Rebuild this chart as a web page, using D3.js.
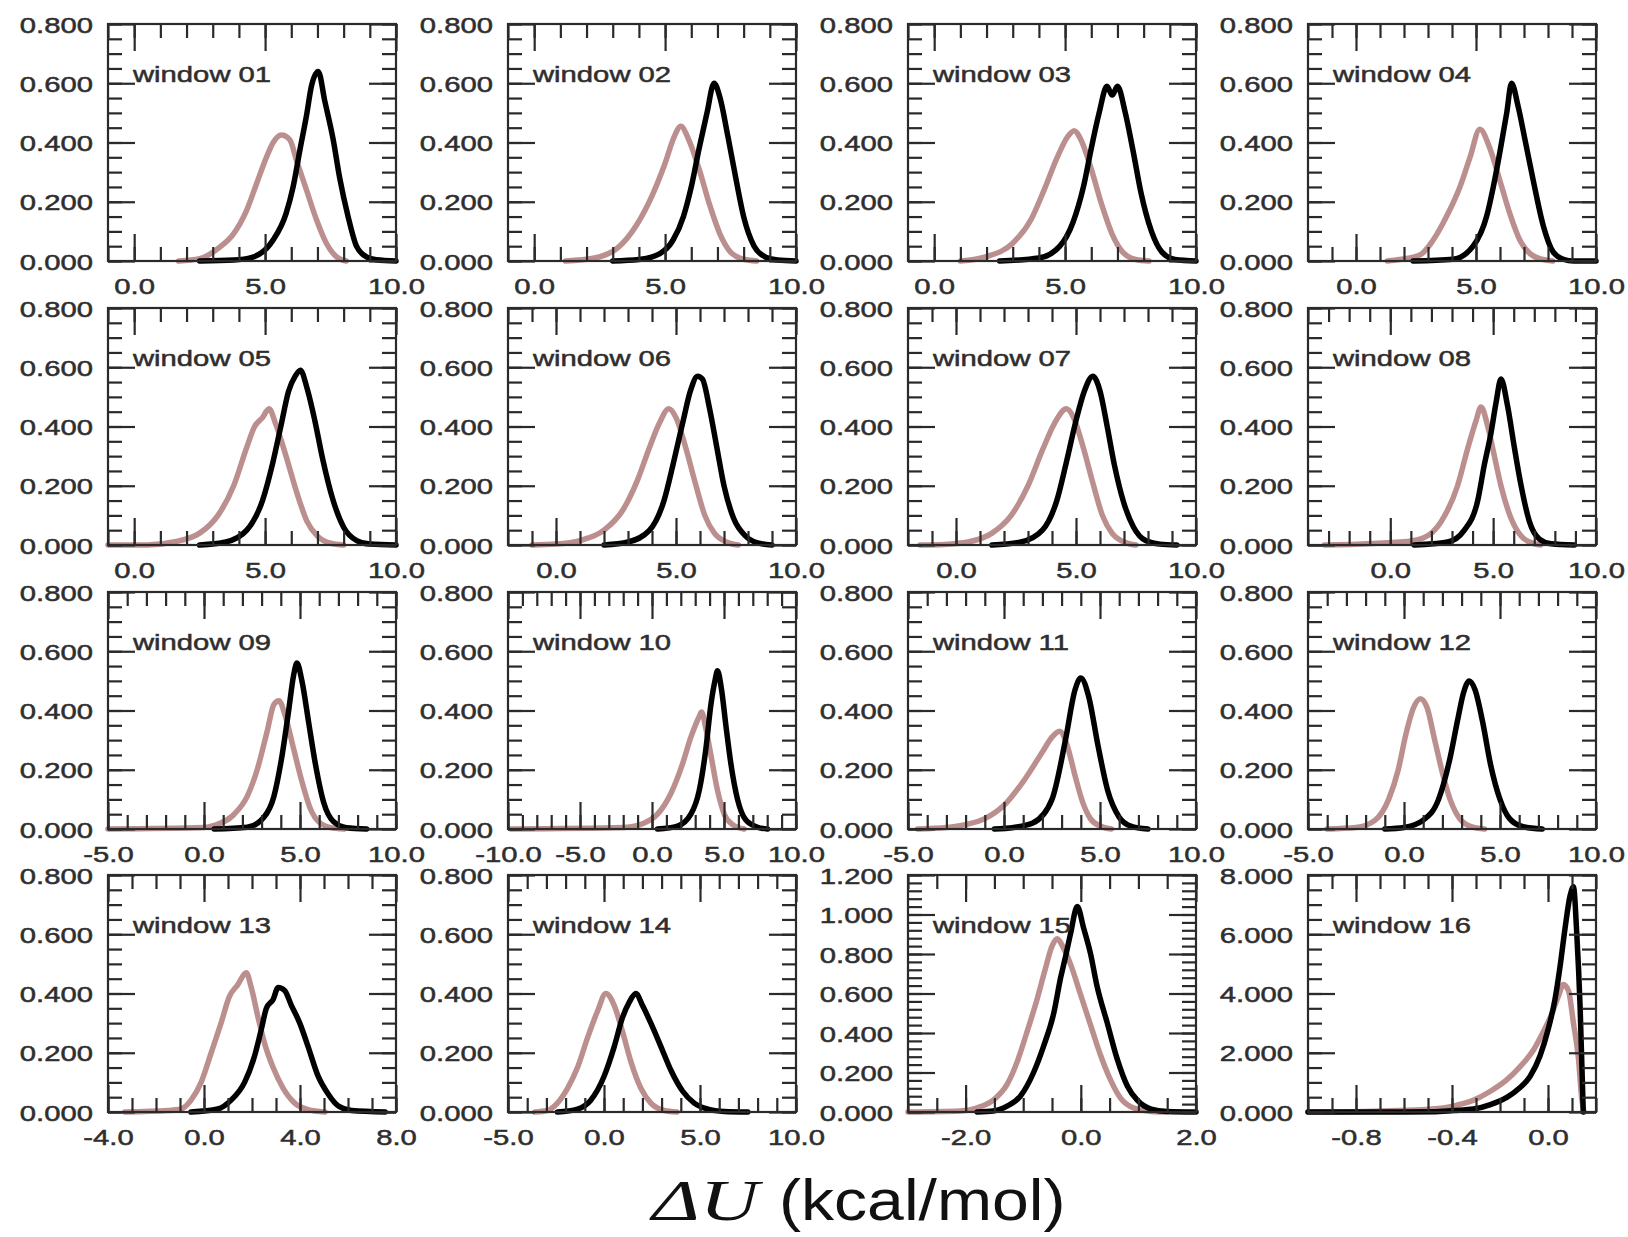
<!DOCTYPE html>
<html>
<head>
<meta charset="utf-8">
<style>
  body { margin: 0; background: #fff; }
  svg { display: block; }
  .frame { fill: none; stroke: #2a2a2a; stroke-width: 2.2px; }
  .ticks .tick line { stroke: #2a2a2a; stroke-width: 2.2px; }
  .domain { display: none; }
  .lbl text, .title { font-family: "Liberation Sans", Arial, sans-serif; font-size: 22.5px;
                      fill: #2e2e2e; stroke: #2e2e2e; stroke-width: 0.5px; }
  .line { fill: none; stroke-width: 5.5px; stroke-linejoin: round; stroke-linecap: round; }
</style>
</head>
<body>
<script src="https://cdn.jsdelivr.net/npm/d3@7"></script>
<script>
// panel titles
var titles = ["window 01", "window 02", "window 03", "window 04",
              "window 05", "window 06", "window 07", "window 08",
              "window 09", "window 10", "window 11", "window 12",
              "window 13", "window 14", "window 15", "window 16"];

// x ranges, labelled ticks and minor tick step of each panel
var xDomains = [[-1, 10], [-1, 10], [-1, 10], [-2, 10],
                [-1, 10], [-2, 10], [-2, 10], [-4, 10],
                [-5, 10], [-10, 10], [-5, 10], [-5, 10],
                [-4, 8], [-5, 10], [-3, 2], [-1, 0.2]];
var xLabels = [[0, 5, 10], [0, 5, 10], [0, 5, 10], [0, 5, 10],
               [0, 5, 10], [0, 5, 10], [0, 5, 10], [0, 5, 10],
               [-5, 0, 5, 10], [-10, -5, 0, 5, 10], [-5, 0, 5, 10], [-5, 0, 5, 10],
               [-4, 0, 4, 8], [-5, 0, 5, 10], [-2, 0, 2], [-0.8, -0.4, 0.0]];
var xMinor = [1, 1, 1, 1, 1, 1, 1, 1, 1, 1, 1, 1, 1, 1, 0.5, 0.1];

// y ranges
var yMax = [0.8, 0.8, 0.8, 0.8, 0.8, 0.8, 0.8, 0.8, 0.8, 0.8, 0.8, 0.8, 0.8, 0.8, 1.2, 8];
var yMajor = [0.2, 0.2, 0.2, 0.2, 0.2, 0.2, 0.2, 0.2, 0.2, 0.2, 0.2, 0.2, 0.2, 0.2, 0.2, 2];
var yMinorStep = [0.05, 0.05, 0.05, 0.05, 0.05, 0.05, 0.05, 0.05, 0.05, 0.05, 0.05, 0.05, 0.05, 0.05, 0.04, 0.5];

// distributions: [dU, P(dU)]
var black01 = [[2.5,0],[3.8,0.003],[4.5,0.012],[5.3,0.07],[5.8,0.16],[6.07,0.25],[6.32,0.37],[6.58,0.49],[6.77,0.59],[7.03,0.64],[7.28,0.54],[7.6,0.41],[7.85,0.28],[8.17,0.15],[8.49,0.05],[8.87,0.014],[9.25,0.004],[10,0]];
var pink01  = [[1.7,0],[2.5,0.008],[3.27,0.047],[3.78,0.09],[4.29,0.17],[4.67,0.26],[5.05,0.35],[5.31,0.40],[5.62,0.425],[5.94,0.41],[6.2,0.34],[6.58,0.24],[6.96,0.14],[7.34,0.06],[7.73,0.014],[8.1,0]];
var black02 = [[3.0,0],[4.0,0.005],[4.8,0.025],[5.3,0.07],[5.7,0.15],[6.0,0.25],[6.3,0.38],[6.6,0.5],[6.87,0.6],[7.1,0.55],[7.4,0.42],[7.7,0.28],[8.0,0.15],[8.4,0.05],[8.8,0.015],[9.3,0.003],[10,0]];
var pink02  = [[1.2,0],[2.3,0.01],[3.2,0.045],[3.9,0.12],[4.5,0.22],[5.0,0.33],[5.35,0.42],[5.6,0.455],[5.9,0.41],[6.3,0.31],[6.7,0.19],[7.1,0.09],[7.5,0.03],[8.0,0.006],[8.5,0]];
var black03 = [[2.5,0],[4.0,0.01],[4.8,0.05],[5.3,0.13],[5.7,0.25],[6.0,0.38],[6.3,0.5],[6.6,0.59],[6.8,0.56],[7.0,0.59],[7.3,0.5],[7.6,0.37],[7.9,0.23],[8.3,0.1],[8.7,0.03],[9.2,0.005],[10,0]];
var pink03  = [[1.0,0],[2.0,0.015],[3.0,0.06],[3.7,0.14],[4.2,0.24],[4.7,0.35],[5.1,0.42],[5.35,0.44],[5.6,0.41],[6.0,0.31],[6.4,0.19],[6.8,0.09],[7.2,0.03],[7.7,0.005],[8.2,0]];
var black04 = [[2.38,0],[4.05,0.006],[4.88,0.05],[5.44,0.15],[5.72,0.25],[6.0,0.37],[6.28,0.5],[6.48,0.6],[6.76,0.52],[7.04,0.41],[7.39,0.27],[7.8,0.12],[8.22,0.03],[8.64,0.006],[9.06,0],[10,0]];
var pink04  = [[1.3,0],[1.82,0.005],[2.66,0.02],[3.21,0.07],[3.77,0.15],[4.33,0.25],[4.75,0.35],[5.16,0.445],[5.58,0.38],[6.0,0.27],[6.41,0.16],[6.83,0.07],[7.25,0.025],[7.8,0.005],[8.2,0]];
var black05 = [[2.5,0],[3.5,0.01],[4.3,0.05],[4.9,0.15],[5.3,0.28],[5.6,0.4],[5.9,0.52],[6.15,0.57],[6.35,0.59],[6.6,0.53],[6.9,0.42],[7.2,0.29],[7.6,0.15],[8.0,0.06],[8.5,0.015],[9.0,0.003],[10,0]];
var pink05  = [[-1,0],[0.5,0],[1.5,0.01],[2.5,0.04],[3.2,0.1],[3.8,0.2],[4.3,0.33],[4.6,0.4],[4.9,0.43],[5.15,0.46],[5.4,0.41],[5.8,0.3],[6.2,0.18],[6.6,0.08],[7.0,0.03],[7.5,0.006],[8.0,0]];
var black06 = [[2.0,0],[3.0,0.01],[3.9,0.05],[4.5,0.15],[4.9,0.28],[5.3,0.42],[5.6,0.52],[5.9,0.57],[6.1,0.56],[6.4,0.46],[6.7,0.33],[7.0,0.2],[7.4,0.09],[7.9,0.03],[8.4,0.007],[9.0,0]];
var pink06  = [[-1.0,0],[0.0,0.003],[1.0,0.015],[2.0,0.05],[2.8,0.12],[3.4,0.22],[3.9,0.33],[4.3,0.41],[4.7,0.46],[5.0,0.43],[5.4,0.33],[5.8,0.21],[6.2,0.1],[6.6,0.04],[7.1,0.01],[7.6,0]];
var black07 = [[1.5,0],[2.7,0.01],[3.6,0.05],[4.2,0.15],[4.6,0.28],[5.0,0.42],[5.35,0.52],[5.7,0.57],[6.0,0.52],[6.3,0.4],[6.6,0.27],[7.0,0.14],[7.4,0.06],[7.9,0.015],[8.5,0.003],[9.2,0]];
var pink07  = [[-1.5,0],[-0.5,0.002],[0.5,0.01],[1.5,0.04],[2.3,0.1],[3.0,0.2],[3.6,0.32],[4.1,0.41],[4.6,0.46],[4.9,0.43],[5.3,0.33],[5.7,0.21],[6.1,0.1],[6.5,0.04],[7.0,0.01],[7.5,0]];
var black08 = [[1.16,0],[2.79,0.01],[3.6,0.05],[4.25,0.15],[4.57,0.27],[4.9,0.38],[5.14,0.48],[5.38,0.56],[5.7,0.47],[6.03,0.33],[6.36,0.2],[6.76,0.08],[7.25,0.02],[7.82,0.004],[8.95,0]];
var pink08  = [[-3.2,0],[0.84,0.012],[1.65,0.025],[2.46,0.078],[3.27,0.2],[3.76,0.325],[4.17,0.42],[4.41,0.466],[4.74,0.40],[5.06,0.30],[5.38,0.2],[5.87,0.09],[6.36,0.03],[6.84,0.008],[7.3,0]];
var black09 = [[0.53,0],[2.25,0.006],[3.12,0.04],[3.64,0.11],[4.07,0.25],[4.41,0.4],[4.67,0.52],[4.84,0.56],[5.1,0.5],[5.45,0.36],[5.8,0.22],[6.23,0.09],[6.74,0.025],[7.43,0.004],[8.47,0]];
var pink09  = [[-5,0],[0.0,0.005],[0.53,0.012],[1.56,0.049],[2.25,0.11],[2.77,0.2],[3.29,0.33],[3.64,0.42],[3.9,0.433],[4.24,0.38],[4.67,0.27],[5.1,0.16],[5.53,0.07],[6.05,0.02],[6.74,0.003],[7.3,0]];
var black10 = [[0.38,0],[1.77,0.01],[2.7,0.05],[3.28,0.13],[3.74,0.27],[4.09,0.42],[4.37,0.5],[4.55,0.534],[4.83,0.47],[5.13,0.35],[5.48,0.22],[5.94,0.1],[6.52,0.03],[7.33,0.006],[8.03,0]];
var pink10  = [[-9.8,0],[-1.93,0.005],[-0.54,0.02],[0.38,0.05],[1.31,0.12],[2.12,0.22],[2.7,0.31],[3.28,0.38],[3.44,0.395],[3.74,0.34],[4.09,0.25],[4.55,0.13],[5.02,0.05],[5.6,0.015],[6.4,0]];
var black11 = [[-0.5,0],[0.5,0.005],[1.5,0.02],[2.5,0.1],[3.2,0.3],[3.7,0.47],[4.0,0.51],[4.4,0.45],[4.9,0.28],[5.4,0.13],[6.0,0.04],[6.6,0.01],[7.5,0]];
var pink11  = [[-4.5,0],[-3.0,0.005],[-2.0,0.015],[-1.0,0.035],[0.0,0.08],[1.0,0.16],[2.0,0.26],[2.5,0.31],[2.9,0.33],[3.3,0.28],[3.7,0.18],[4.1,0.09],[4.5,0.035],[5.0,0.01],[5.6,0]];
var black12 = [[-1.0,0],[0.0,0.005],[1.0,0.03],[1.8,0.1],[2.4,0.24],[2.8,0.37],[3.1,0.46],[3.4,0.5],[3.7,0.47],[4.1,0.36],[4.5,0.22],[5.0,0.1],[5.5,0.035],[6.2,0.008],[7.2,0]];
var pink12  = [[-4.0,0],[-2.5,0.005],[-1.5,0.03],[-0.8,0.1],[-0.3,0.2],[0.1,0.32],[0.5,0.41],[0.85,0.44],[1.2,0.41],[1.6,0.3],[2.0,0.19],[2.4,0.1],[2.9,0.035],[3.5,0.008],[4.2,0]];
var black13 = [[-0.54,0],[0.57,0.01],[1.13,0.04],[1.69,0.1],[2.11,0.19],[2.39,0.28],[2.6,0.35],[2.88,0.38],[3.09,0.42],[3.36,0.41],[3.64,0.36],[3.99,0.3],[4.34,0.22],[4.76,0.12],[5.18,0.06],[5.6,0.02],[6.15,0.005],[7.55,0]];
var pink13  = [[-3.3,0],[-1.5,0.005],[-0.96,0.01],[-0.54,0.04],[-0.12,0.1],[0.3,0.2],[0.71,0.3],[1.06,0.39],[1.41,0.43],[1.76,0.47],[1.97,0.42],[2.25,0.32],[2.53,0.23],[2.88,0.15],[3.3,0.08],[3.78,0.03],[4.34,0.008],[5.04,0]];
var black14 = [[-2.43,0],[-1.38,0.01],[-0.69,0.04],[0.0,0.12],[0.53,0.22],[0.97,0.32],[1.31,0.37],[1.66,0.40],[2.0,0.36],[2.44,0.3],[2.97,0.22],[3.49,0.14],[4.1,0.07],[4.7,0.03],[5.4,0.01],[6.27,0.002],[7.49,0]];
var pink14  = [[-3.6,0],[-2.95,0.005],[-2.43,0.03],[-1.9,0.08],[-1.38,0.15],[-0.86,0.25],[-0.34,0.34],[0.1,0.40],[0.53,0.36],[0.97,0.27],[1.4,0.17],[1.92,0.08],[2.44,0.03],[3.14,0.005],[3.8,0]];
var black15 = [[-1.8,0],[-1.52,0.005],[-1.28,0.03],[-1.05,0.08],[-0.82,0.2],[-0.65,0.33],[-0.47,0.5],[-0.35,0.68],[-0.27,0.78],[-0.18,0.9],[-0.06,1.04],[0.05,0.93],[0.17,0.8],[0.28,0.64],[0.46,0.45],[0.63,0.27],[0.81,0.13],[0.98,0.06],[1.22,0.015],[1.5,0.003],[2.0,0]];
var pink15  = [[-3.0,0],[-2.1,0.005],[-1.81,0.02],[-1.52,0.06],[-1.28,0.14],[-1.11,0.25],[-0.94,0.4],[-0.76,0.57],[-0.62,0.72],[-0.5,0.84],[-0.41,0.877],[-0.3,0.83],[-0.18,0.75],[-0.01,0.6],[0.17,0.44],[0.34,0.29],[0.52,0.16],[0.69,0.07],[0.92,0.02],[1.22,0.003],[1.5,0]];
var black16 = [[-1.0,0],[-0.6,0.003],[-0.48,0.01],[-0.395,0.05],[-0.31,0.1],[-0.24,0.25],[-0.17,0.5],[-0.12,0.8],[-0.075,1.2],[-0.033,1.9],[0.001,2.8],[0.029,3.8],[0.05,4.9],[0.071,6.2],[0.092,7.3],[0.106,7.6],[0.12,6.0],[0.134,3.5],[0.147,0]];
var pink16  = [[-1.0,0],[-0.76,0.02],[-0.62,0.05],[-0.48,0.1],[-0.395,0.2],[-0.31,0.4],[-0.24,0.7],[-0.17,1.1],[-0.12,1.5],[-0.06,2.1],[-0.02,2.7],[0.015,3.3],[0.043,3.9],[0.064,4.3],[0.085,4.1],[0.106,3.0],[0.127,1.8],[0.14,0.5],[0.15,0]];

var blackSeries = [black01, black02, black03, black04, black05, black06, black07, black08,
                   black09, black10, black11, black12, black13, black14, black15, black16];
var pinkSeries  = [pink01, pink02, pink03, pink04, pink05, pink06, pink07, pink08,
                   pink09, pink10, pink11, pink12, pink13, pink14, pink15, pink16];

// layout
var width = 1628, height = 1237;
var panelW = 288, panelH = 237;
var colX = [108, 508, 908, 1308];
var rowY = [24, 308, 592, 875];
var majorLen = 27, minorLen = 14;
var stretch = 1.3; // glyphs in the figure are widened

var svg = d3.select("body").append("svg")
    .attr("width", width)
    .attr("height", height);

function steps(d0, d1, step) {
    var out = [];
    var start = Math.ceil(d0 / step - 1e-6);
    for (var k = start; k * step <= d1 + 1e-9; k++) out.push(+(k * step).toFixed(6));
    return out;
}

titles.forEach(function (title, i) {
    var col = i % 4, row = Math.floor(i / 4);
    var g = svg.append("g")
        .attr("transform", "translate(" + colX[col] + "," + rowY[row] + ")");

    var x = d3.scaleLinear().domain(xDomains[i]).range([0, panelW]);
    var y = d3.scaleLinear().domain([0, yMax[i]]).range([panelH, 0]);

    var xm = steps(xDomains[i][0], xDomains[i][1], xMinor[i]);
    var ym = steps(0, yMax[i], yMinorStep[i]);
    var yM = steps(0, yMax[i], yMajor[i]);

    // curves
    var line = d3.line()
        .x(function (d) { return x(d[0]); })
        .y(function (d) { return y(d[1]); })
        .curve(d3.curveMonotoneX);

    g.append("path").datum(pinkSeries[i])
        .attr("class", "line").attr("d", line).style("stroke", "#bc8f8f");
    g.append("path").datum(blackSeries[i])
        .attr("class", "line").attr("d", line).style("stroke", "#000");

    // inward ticks on all four sides
    [[xm, minorLen], [xLabels[i], majorLen]].forEach(function (t) {
        g.append("g").attr("class", "ticks")
            .attr("transform", "translate(0," + panelH + ")")
            .call(d3.axisBottom(x).tickValues(t[0]).tickSize(-t[1]).tickFormat(""));
        g.append("g").attr("class", "ticks")
            .call(d3.axisTop(x).tickValues(t[0]).tickSize(-t[1]).tickFormat(""));
    });
    [[ym, minorLen], [yM, majorLen]].forEach(function (t) {
        g.append("g").attr("class", "ticks")
            .call(d3.axisLeft(y).tickValues(t[0]).tickSize(-t[1]).tickFormat(""));
        g.append("g").attr("class", "ticks")
            .attr("transform", "translate(" + panelW + ",0)")
            .call(d3.axisRight(y).tickValues(t[0]).tickSize(-t[1]).tickFormat(""));
    });

    g.append("rect").attr("class", "frame")
        .attr("width", panelW).attr("height", panelH);

    // tick labels
    var xl = g.append("g").attr("class", "lbl")
        .attr("transform", "translate(0," + panelH + ")")
        .call(d3.axisBottom(x).tickValues(xLabels[i]).tickSize(0).tickPadding(17)
            .tickFormat(function (d) { return d.toFixed(1); }));
    xl.selectAll("text").attr("transform", "scale(" + stretch + ",1)");
    xl.attr("font-size", null).attr("font-family", null);

    var yl = g.append("g").attr("class", "lbl")
        .call(d3.axisLeft(y).tickValues(yM).tickSize(0).tickPadding(15)
            .tickFormat(function (d) { return d.toFixed(3); }));
    yl.selectAll("text").attr("x", -15 / stretch).attr("dy", "0.36em")
        .attr("transform", "scale(" + stretch + ",1)");
    yl.attr("font-size", null).attr("font-family", null);

    g.append("text").attr("class", "title")
        .attr("transform", "translate(25,58) scale(" + stretch + ",1)")
        .text(title);
});

// common x axis title
svg.append("text")
    .attr("transform", "translate(652,1220) scale(1.43,1)")
    .style("font-size", "57px")
    .style("fill", "#111")
    .style("font-family", "'Liberation Serif', 'Times New Roman', serif")
    .style("font-style", "italic")
    .text("\u0394U");
svg.append("text")
    .attr("transform", "translate(779,1220) scale(1.16,1)")
    .style("font-size", "57px")
    .style("fill", "#111")
    .style("font-family", "'Liberation Sans', Arial, sans-serif")
    .text("(kcal/mol)");
</script>
</body>
</html>
